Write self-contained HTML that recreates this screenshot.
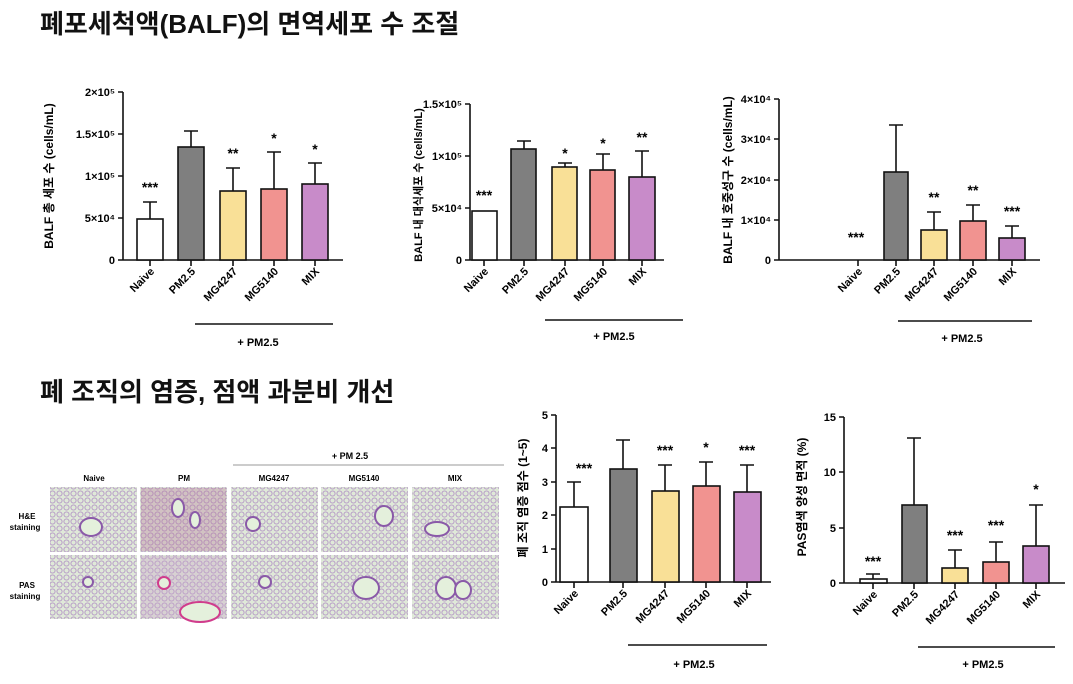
<!DOCTYPE html>
<html><head><meta charset="utf-8"><style>
body{margin:0;background:#fff}
svg{display:block;font-family:"Liberation Sans","Noto Sans CJK KR",sans-serif}
.t{font-weight:bold;font-size:11px}
.yl{font-weight:bold;font-size:12px}
.ax{stroke:#111;stroke-width:1.6;fill:none}
.b{stroke:#111;stroke-width:1.6}
.st{font-size:14px;font-weight:bold}
</style></head><body>
<svg width="1073" height="684" viewBox="0 0 1073 684">
<text x="40" y="33" font-size="26" font-weight="bold" fill="#111">폐포세척액(BALF)의 면역세포 수 조절</text>
<text x="40" y="401" font-size="26" font-weight="bold" fill="#111">폐 조직의 염증, 점액 과분비 개선</text>

<!-- Chart 1 -->
<g>
<path class="ax" d="M123 92V260H343M118 92H123M118 134H123M118 176H123M118 218H123M118 260H123M150 260v6M191 260v6M233 260v6M274 260v6M315 260v6"/>
<g class="t" text-anchor="end"><text x="115" y="96">2×10⁵</text><text x="115" y="138">1.5×10⁵</text><text x="115" y="180">1×10⁵</text><text x="115" y="222">5×10⁴</text><text x="115" y="264">0</text></g>
<path class="ax" d="M150 219V202M143 202H157M191 147V131M184 131H198M233 191V168M226 168H240M274 189V152M267 152H281M315 184V163M308 163H322"/>
<rect class="b" x="137" y="219" width="26" height="41" fill="#fff"/>
<rect class="b" x="178" y="147" width="26" height="113" fill="#7f7f7f"/>
<rect class="b" x="220" y="191" width="26" height="69" fill="#f9e097"/>
<rect class="b" x="261" y="189" width="26" height="71" fill="#f19390"/>
<rect class="b" x="302" y="184" width="26" height="76" fill="#c88bc9"/>
<g class="st" text-anchor="middle"><text x="150" y="192">***</text><text x="233" y="158">**</text><text x="274" y="143">*</text><text x="315" y="154">*</text></g>
<g class="t" text-anchor="end"><text transform="translate(155,272) rotate(-45)">Naive</text><text transform="translate(196,272) rotate(-45)">PM2.5</text><text transform="translate(238,272) rotate(-45)">MG4247</text><text transform="translate(279,272) rotate(-45)">MG5140</text><text transform="translate(320,272) rotate(-45)">MIX</text></g>
<path class="ax" d="M195 324H333"/><text class="t" x="258" y="346" text-anchor="middle">+ PM2.5</text>
<text class="yl" transform="translate(53,176) rotate(-90)" text-anchor="middle">BALF 총 세포 수 (cells/mL)</text>
</g>

<!-- Chart 2 -->
<g>
<path class="ax" d="M470 104V260H664M465 104H470M465 156H470M465 208H470M465 260H470M484 260v6M524 260v6M565 260v6M603 260v6M642 260v6"/>
<g class="t" text-anchor="end"><text x="462" y="108">1.5×10⁵</text><text x="462" y="160">1×10⁵</text><text x="462" y="212">5×10⁴</text><text x="462" y="264">0</text></g>
<path class="ax" d="M524 149V141M517 141H531M565 167V163M558 163H572M603 170V154M596 154H610M642 177V151M635 151H649"/>
<rect class="b" x="472" y="211" width="25" height="49" fill="#fff"/>
<rect class="b" x="511" y="149" width="25" height="111" fill="#7f7f7f"/>
<rect class="b" x="552" y="167" width="25" height="93" fill="#f9e097"/>
<rect class="b" x="590" y="170" width="25" height="90" fill="#f19390"/>
<rect class="b" x="629" y="177" width="26" height="83" fill="#c88bc9"/>
<g class="st" text-anchor="middle"><text x="484" y="200">***</text><text x="565" y="158">*</text><text x="603" y="148">*</text><text x="642" y="142">**</text></g>
<g class="t" text-anchor="end"><text transform="translate(489,272) rotate(-45)">Naive</text><text transform="translate(529,272) rotate(-45)">PM2.5</text><text transform="translate(570,272) rotate(-45)">MG4247</text><text transform="translate(608,272) rotate(-45)">MG5140</text><text transform="translate(647,272) rotate(-45)">MIX</text></g>
<path class="ax" d="M545 320H683"/><text class="t" x="614" y="340" text-anchor="middle">+ PM2.5</text>
<text class="t" transform="translate(422,185) rotate(-90)" text-anchor="middle">BALF 내 대식세포 수 (cells/mL)</text>
</g>

<!-- Chart 3 -->
<g>
<path class="ax" d="M779 99V260H1040M774 99H779M774 139H779M774 180H779M774 220H779M774 260H779M858 260v6M896 260v6M934 260v6M973 260v6M1012 260v6"/>
<g class="t" text-anchor="end"><text x="771" y="103">4×10⁴</text><text x="771" y="143">3×10⁴</text><text x="771" y="184">2×10⁴</text><text x="771" y="224">1×10⁴</text><text x="771" y="264">0</text></g>
<path class="ax" d="M896 172V125M889 125H903M934 230V212M927 212H941M973 221V205M966 205H980M1012 238V226M1005 226H1019"/>
<rect class="b" x="884" y="172" width="24" height="88" fill="#7f7f7f"/>
<rect class="b" x="921" y="230" width="26" height="30" fill="#f9e097"/>
<rect class="b" x="960" y="221" width="26" height="39" fill="#f19390"/>
<rect class="b" x="999" y="238" width="26" height="22" fill="#c88bc9"/>
<g class="st" text-anchor="middle"><text x="856" y="242">***</text><text x="934" y="202">**</text><text x="973" y="195">**</text><text x="1012" y="216">***</text></g>
<g class="t" text-anchor="end"><text transform="translate(863,272) rotate(-45)">Naive</text><text transform="translate(901,272) rotate(-45)">PM2.5</text><text transform="translate(939,272) rotate(-45)">MG4247</text><text transform="translate(978,272) rotate(-45)">MG5140</text><text transform="translate(1017,272) rotate(-45)">MIX</text></g>
<path class="ax" d="M898 321H1032"/><text class="t" x="962" y="342" text-anchor="middle">+ PM2.5</text>
<text class="yl" transform="translate(732,180) rotate(-90)" text-anchor="middle">BALF 내 호중성구 수 (cells/mL)</text>
</g>

<!-- Histology -->
<g>
<text x="350" y="459" font-size="9" font-weight="bold" text-anchor="middle">+ PM 2.5</text>
<line x1="233" y1="465" x2="504" y2="465" stroke="#999" stroke-width="1"/>
<g font-size="8" font-weight="bold" text-anchor="middle"><text x="94" y="481">Naive</text><text x="184" y="481">PM</text><text x="274" y="481">MG4247</text><text x="364" y="481">MG5140</text><text x="455" y="481">MIX</text>
<text x="27" y="519">H&amp;E</text><text x="25" y="530">staining</text><text x="27" y="588">PAS</text><text x="25" y="599">staining</text></g>
<defs><pattern id="p" width="7" height="7" patternUnits="userSpaceOnUse"><rect width="7" height="7" fill="#dfe9d8"/><circle cx="3.5" cy="3.5" r="2.6" fill="none" stroke="#b597c6" stroke-width="0.9"/></pattern></defs>
<g fill="url(#p)">
<rect x="50" y="487" width="87" height="65"/><rect x="140" y="487" width="87" height="65"/><rect x="231" y="487" width="87" height="65"/><rect x="321" y="487" width="87" height="65"/><rect x="412" y="487" width="87" height="65"/>
<rect x="50" y="555" width="87" height="64"/><rect x="140" y="555" width="87" height="64"/><rect x="231" y="555" width="87" height="64"/><rect x="321" y="555" width="87" height="64"/><rect x="412" y="555" width="87" height="64"/>
</g>
<rect x="141" y="488" width="85" height="63" fill="#b87a9a" opacity="0.35"/>
<rect x="141" y="556" width="85" height="62" fill="#c9a5c8" opacity="0.35"/>
<g fill="#e4f0dc" stroke="#8a5aa8" stroke-width="2">
<ellipse cx="91" cy="527" rx="11" ry="9"/><ellipse cx="178" cy="508" rx="6" ry="9"/><ellipse cx="195" cy="520" rx="5" ry="8"/><circle cx="253" cy="524" r="7"/><ellipse cx="384" cy="516" rx="9" ry="10"/><ellipse cx="437" cy="529" rx="12" ry="7"/>
<circle cx="88" cy="582" r="5"/><circle cx="164" cy="583" r="6" stroke="#d03c8c"/><ellipse cx="200" cy="612" rx="20" ry="10" stroke="#d03c8c"/><circle cx="265" cy="582" r="6"/><ellipse cx="366" cy="588" rx="13" ry="11"/><ellipse cx="446" cy="588" rx="10" ry="11"/><ellipse cx="463" cy="590" rx="8" ry="9"/>
</g>
</g>

<!-- Chart 4 -->
<g>
<path class="ax" d="M556 415V582H771M551 415H556M551 448H556M551 482H556M551 515H556M551 549H556M551 582H556M574 582v6M623 582v6M665 582v6M706 582v6M747 582v6"/>
<g class="t" text-anchor="end"><text x="548" y="419">5</text><text x="548" y="452">4</text><text x="548" y="486">3</text><text x="548" y="519">2</text><text x="548" y="553">1</text><text x="548" y="586">0</text></g>
<path class="ax" d="M574 507V482M567 482H581M623 469V440M616 440H630M665 491V465M658 465H672M706 486V462M699 462H713M747 492V465M740 465H754"/>
<rect class="b" x="560" y="507" width="28" height="75" fill="#fff"/>
<rect class="b" x="610" y="469" width="27" height="113" fill="#7f7f7f"/>
<rect class="b" x="652" y="491" width="27" height="91" fill="#f9e097"/>
<rect class="b" x="693" y="486" width="27" height="96" fill="#f19390"/>
<rect class="b" x="734" y="492" width="27" height="90" fill="#c88bc9"/>
<g class="st" text-anchor="middle"><text x="584" y="473">***</text><text x="665" y="455">***</text><text x="706" y="452">*</text><text x="747" y="455">***</text></g>
<g class="t" text-anchor="end"><text transform="translate(579,594) rotate(-45)">Naive</text><text transform="translate(628,594) rotate(-45)">PM2.5</text><text transform="translate(670,594) rotate(-45)">MG4247</text><text transform="translate(711,594) rotate(-45)">MG5140</text><text transform="translate(752,594) rotate(-45)">MIX</text></g>
<path class="ax" d="M628 645H767"/><text class="t" x="694" y="668" text-anchor="middle">+ PM2.5</text>
<text class="yl" transform="translate(527,498) rotate(-90)" text-anchor="middle">폐 조직 염증 점수 (1~5)</text>
</g>

<!-- Chart 5 -->
<g>
<path class="ax" d="M844 417V583H1065M839 417H844M839 472H844M839 528H844M839 583H844M873 583v6M914 583v6M955 583v6M996 583v6M1036 583v6"/>
<g class="t" text-anchor="end"><text x="836" y="421">15</text><text x="836" y="476">10</text><text x="836" y="532">5</text><text x="836" y="587">0</text></g>
<path class="ax" d="M873 579V574M866 574H880M914 505V438M907 438H921M955 568V550M948 550H962M996 562V542M989 542H1003M1036 546V505M1029 505H1043"/>
<rect class="b" x="860" y="579" width="27" height="4" fill="#fff"/>
<rect class="b" x="902" y="505" width="25" height="78" fill="#7f7f7f"/>
<rect class="b" x="942" y="568" width="26" height="15" fill="#f9e097"/>
<rect class="b" x="983" y="562" width="26" height="21" fill="#f19390"/>
<rect class="b" x="1023" y="546" width="26" height="37" fill="#c88bc9"/>
<g class="st" text-anchor="middle"><text x="873" y="566">***</text><text x="955" y="540">***</text><text x="996" y="530">***</text><text x="1036" y="494">*</text></g>
<g class="t" text-anchor="end"><text transform="translate(878,595) rotate(-45)">Naive</text><text transform="translate(919,595) rotate(-45)">PM2.5</text><text transform="translate(960,595) rotate(-45)">MG4247</text><text transform="translate(1001,595) rotate(-45)">MG5140</text><text transform="translate(1041,595) rotate(-45)">MIX</text></g>
<path class="ax" d="M918 647H1055"/><text class="t" x="983" y="668" text-anchor="middle">+ PM2.5</text>
<text class="yl" transform="translate(806,497) rotate(-90)" text-anchor="middle">PAS염색 양성 면적 (%)</text>
</g>
</svg>
</body></html>
